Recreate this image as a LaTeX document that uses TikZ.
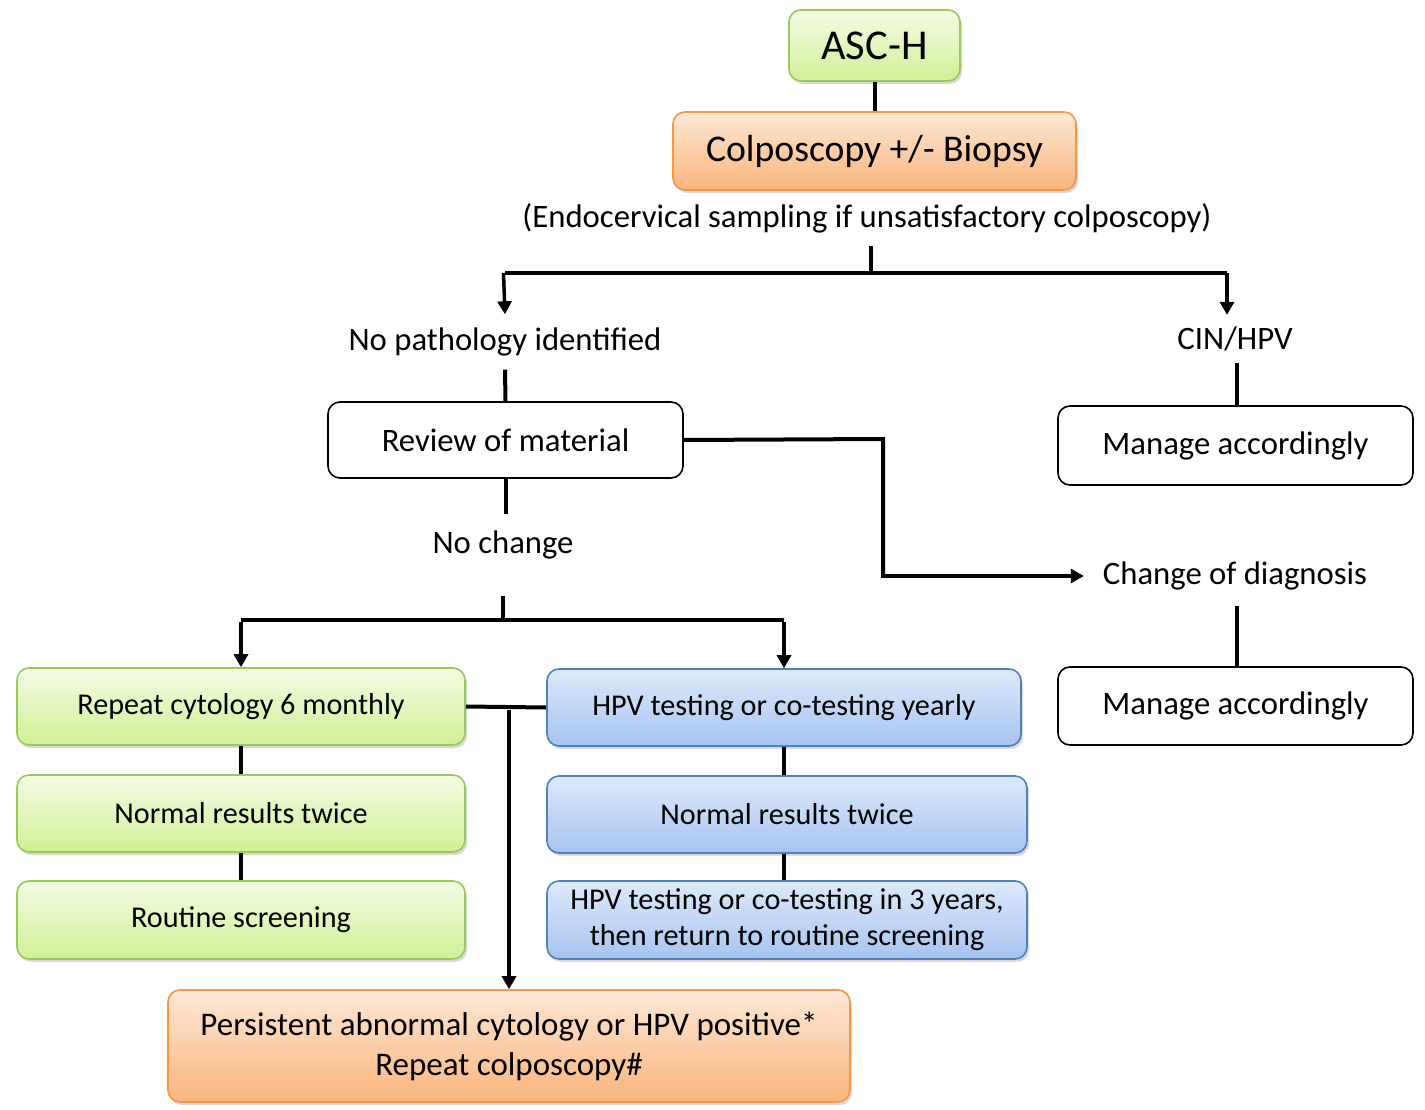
\documentclass[tikz,border=0pt]{standalone}
\usepackage{fontspec}
\setmainfont{Carlito}
\usetikzlibrary{arrows.meta,shadows}
\definecolor{gborder}{RGB}{155,200,90}
\definecolor{gtop}{RGB}{244,252,228}
\definecolor{gbot}{RGB}{208,240,150}
\definecolor{bborder}{RGB}{79,129,189}
\definecolor{btop}{RGB}{222,233,251}
\definecolor{bbot}{RGB}{166,196,240}
\definecolor{oborder}{RGB}{247,150,70}
\definecolor{otop}{RGB}{253,232,214}
\definecolor{obot}{RGB}{249,180,124}
\begin{document}
\begin{tikzpicture}[x=1pt,y=-1pt,
  txt/.style={font=\fontsize{32.7}{38}\selectfont, align=center, inner sep=0pt},
  small/.style={font=\fontsize{30.2}{36}\selectfont},
  base/.style={txt, rounded corners=12pt, line width=1.6pt,
    drop shadow={shadow xshift=2pt, shadow yshift=-3pt, opacity=0.3}},
  greenbox/.style={base, small, draw=gborder, top color=gtop, bottom color=gbot},
  bluebox/.style={base, small, draw=bborder, top color=btop, bottom color=bbot},
  orangebox/.style={base, draw=oborder, top color=otop, bottom color=obot},
  plainbox/.style={txt, rounded corners=12pt, line width=1.6pt, draw=black, fill=white},
  conn/.style={line width=4pt},
  arr/.style={line width=3.5pt, -{Triangle[length=13pt,width=14pt]}},
]
\useasboundingbox (0,0) rectangle (1425,1110);

% top
\node[greenbox, font=\fontsize{42.5}{48}\selectfont, minimum width=171pt, minimum height=71pt] (asch) at (874.5,45.5) {ASC-H};
\node[orangebox, font=\fontsize{37.7}{44}\selectfont, minimum width=403pt, minimum height=78pt] (colpo) at (874.5,151) {Colposcopy +/- Biopsy};
\node[txt, minimum height=56pt] (endo) at (867,218) {(Endocervical sampling if unsatisfactory colposcopy)};
\coordinate (j1) at (871,273);

\node[txt, minimum height=55pt] (nopath) at (505,342) {No pathology identified};
\node[txt, minimum height=48pt] (cin) at (1235,339) {CIN/HPV};

\node[plainbox, minimum width=355pt, minimum height=76pt] (review) at (505.5,440) {Review of material};
\node[plainbox, minimum width=355pt, minimum height=79pt] (man1) at (1235.5,445.5) {Manage accordingly};

\node[txt, minimum height=62pt] (nochange) at (503,545) {No change};
\node[txt, minimum height=60pt, inner xsep=19pt] (change) at (1235,576) {Change of diagnosis};
\coordinate (kr) at (883,439);
\node[plainbox, minimum width=355pt, minimum height=78pt] (man2) at (1235.5,706) {Manage accordingly};

\coordinate (j2) at (503,620);

% green column
\node[greenbox, minimum width=448pt, minimum height=77pt] (g1) at (241,706.5) {Repeat cytology 6 monthly};
\node[greenbox, minimum width=448pt, minimum height=77pt] (g2) at (241,813.5) {Normal results twice};
\node[greenbox, minimum width=448pt, minimum height=78pt] (g3) at (241,920) {Routine screening};

% blue column
\node[bluebox, minimum width=474pt, minimum height=77pt] (b1) at (784,707.5) {HPV testing or co-testing yearly};
\node[bluebox, minimum width=480pt, minimum height=77pt] (b2) at (787,814.5) {Normal results twice};
\node[bluebox, minimum width=480pt, minimum height=78pt] (b3) at (787,920) {HPV testing or co-testing in 3 years,\\then return to routine screening};

\coordinate (j3) at (509,708);
\node[orangebox, minimum width=682pt, minimum height=112pt, font=\fontsize{33}{40}\selectfont] (ob) at (509,1046) {Persistent abnormal cytology or HPV positive*\\Repeat colposcopy\#};

% connectors
\draw[conn] (asch.south) -- (colpo.north);
\draw[conn] (j1 |- endo.south) -- (j1);
\draw[conn] (j1) -- (j1 -| nopath.north);
\draw[arr] ([xshift=-1.5pt]j1 -| nopath.north) -- (nopath.north);
\draw[conn] (j1) -- ([xshift=-8pt]j1 -| cin.north);
\draw[arr] ([xshift=-8pt]j1 -| cin.north) -- ([xshift=-8pt]cin.north);
\draw[conn] (nopath.south) -- (review.north);
\draw[conn] ([xshift=2pt]cin.south) -- ([xshift=2pt]cin.south |- man1.north);
\draw[conn] (review.south) -- (review.south |- nochange.north);
\draw[conn] (review.east) -- (kr) -- (kr |- change.west);
\draw[arr] ([xshift=-2pt]kr |- change.west) -- (change.west);
\draw[conn] ([xshift=2pt]change.south) -- ([xshift=2pt]change.south |- man2.north);
\draw[conn, shorten <=20pt] (nochange.south) -- (j2);
\draw[conn] (j2 -| g1.north) -- (j2 -| b1.north);
\draw[arr] ([yshift=-2pt]j2 -| g1.north) -- (g1.north);
\draw[arr] ([yshift=-2pt]j2 -| b1.north) -- (b1.north);
\draw[conn] (g1.south) -- (g2.north);
\draw[conn] (g2.south) -- (g3.north);
\draw[conn] (b1.south) -- (b1.south |- b2.north);
\draw[conn] (b1.south |- b2.south) -- (b1.south |- b3.north);
\draw[conn] (g1.east) -- (b1.west);
\draw[arr] ([yshift=-2pt]j3) -- (ob.north);
\end{tikzpicture}
\end{document}
